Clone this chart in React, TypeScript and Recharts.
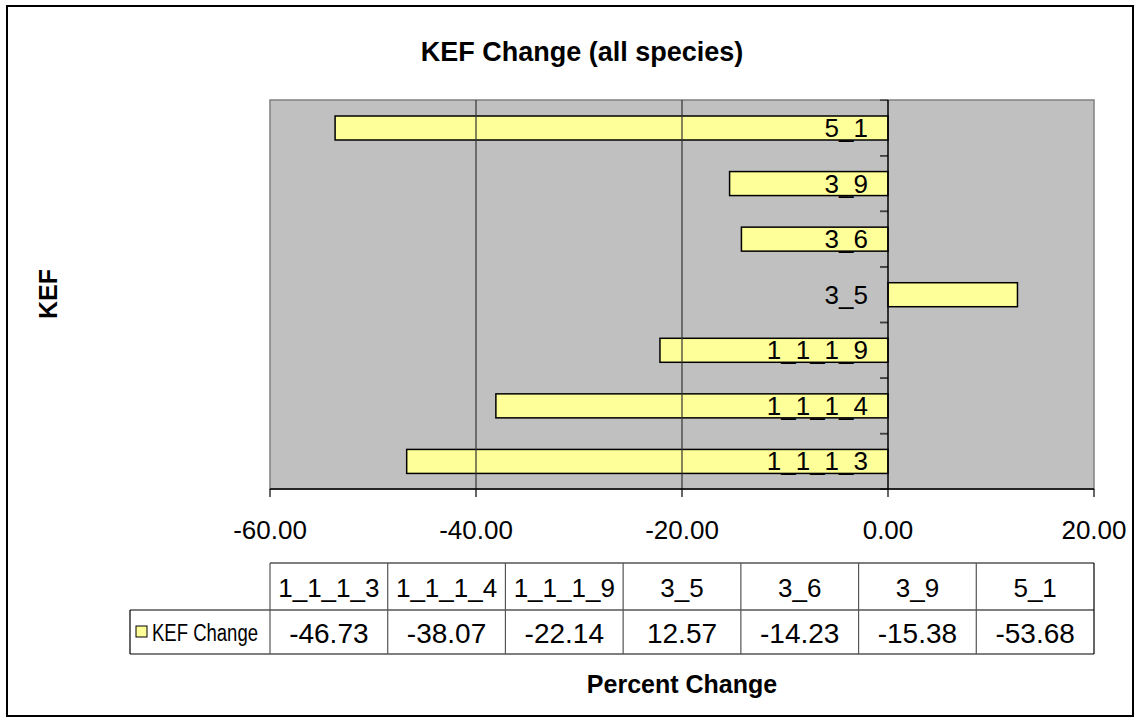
import React from 'react';
import {
	BarChart,
	Bar,
	XAxis,
	YAxis,
	ReferenceLine,
	ReferenceArea,
	LabelList,
} from 'recharts';

const kefs = ['1_1_1_3', '1_1_1_4', '1_1_1_9', '3_5', '3_6', '3_9', '5_1'];
const kefChange = [-46.73, -38.07, -22.14, 12.57, -14.23, -15.38, -53.68];
const xTicks = [-60, -40, -20, 0, 20];
const gridValues = [-40, -20];

const data = kefs.map((kef, i) => ({ kef, value: kefChange[i] }));

const FONT = '"Liberation Sans", Arial, sans-serif';
const W = 1140;
const H = 720;
const plot = { left: 270, right: 1094, top: 100, bottom: 489 };
const band = (plot.bottom - plot.top) / kefs.length;

// bar plus the small category ticks on the zero axis
const BarShape = (props: any) => {
	const { x, y, width, height } = props;
	const rx = width < 0 ? x + width : x;
	const mid = y + height / 2;
	const bt = mid - band / 2;
	const bb = mid + band / 2;
	return (
		<g>
			<rect
				x={rx}
				y={y}
				width={Math.abs(width)}
				height={height}
				fill='#FFFF99'
				stroke='#000'
				strokeWidth={1.5}
			/>
			<line x1={x - 8} x2={x} y1={bt} y2={bt} stroke='#404040' strokeWidth={1.5} />
			<line x1={x - 8} x2={x} y1={bb} y2={bb} stroke='#404040' strokeWidth={1.5} />
		</g>
	);
};

const CatLabel = (props: any) => {
	const { x, y, height, value } = props;
	return (
		<text
			x={x - 20}
			y={y + height / 2}
			textAnchor='end'
			dominantBaseline='central'
			fontSize={26}
			fontFamily={FONT}
			fill='#000'
		>
			{value}
		</text>
	);
};

const DataTable = () => {
	const colW = (plot.right - plot.left) / kefs.length;
	const top = 563;
	const mid = 610;
	const bot = 654;
	const legLeft = 130;
	return (
		<svg
			width={W}
			height={H}
			style={{ position: 'absolute', left: 0, top: 0, pointerEvents: 'none' }}
		>
			<g stroke='#000' strokeWidth={1.2}>
				<line x1={plot.left} x2={plot.right} y1={top} y2={top} />
				<line x1={legLeft} x2={plot.right} y1={mid} y2={mid} />
				<line x1={legLeft} x2={plot.right} y1={bot} y2={bot} />
				<line x1={legLeft} x2={legLeft} y1={mid} y2={bot} />
				{kefs.map((_, i) => (
					<line
						key={i}
						x1={plot.left + i * colW}
						x2={plot.left + i * colW}
						y1={top}
						y2={bot}
						stroke='#555'
					/>
				))}
				<line x1={plot.right} x2={plot.right} y1={top} y2={bot} />
			</g>
			<g fontFamily={FONT} fill='#000' textAnchor='middle'>
				{kefs.map((k, i) => (
					<text key={k} x={plot.left + (i + 0.5) * colW} y={(top + mid) / 2 + 1} dominantBaseline='central' fontSize={26}>
						{k}
					</text>
				))}
				{kefChange.map((v, i) => (
					<text key={i} x={plot.left + (i + 0.5) * colW} y={(mid + bot) / 2 + 1} dominantBaseline='central' fontSize={28}>
						{v.toFixed(2)}
					</text>
				))}
			</g>
			<rect x={136} y={626} width={11} height={11} fill='#FFFF99' stroke='#000' strokeWidth={1} />
			<text
				x={152}
				y={(mid + bot) / 2 + 1}
				dominantBaseline='central'
				fontFamily={FONT}
				fontSize={23}
				textLength={106}
				lengthAdjust='spacingAndGlyphs'
				fill='#000'
			>
				KEF Change
			</text>
			<text
				x={582}
				y={52}
				textAnchor='middle'
				dominantBaseline='central'
				fontFamily={FONT}
				fontSize={27}
				fontWeight='bold'
			>
				KEF Change (all species)
			</text>
			<text
				x={(plot.left + plot.right) / 2}
				y={684}
				textAnchor='middle'
				dominantBaseline='central'
				fontFamily={FONT}
				fontSize={25}
				fontWeight='bold'
			>
				Percent Change
			</text>
			<text
				x={48}
				y={294}
				textAnchor='middle'
				dominantBaseline='central'
				fontFamily={FONT}
				fontSize={25}
				fontWeight='bold'
				transform='rotate(-90 48 294)'
			>
				KEF
			</text>
		</svg>
	);
};

export default function App() {
	return (
		<div
			style={{
				position: 'absolute',
				left: 0,
				top: 0,
				width: W,
				height: H,
				background: '#fff',
				fontFamily: FONT,
			}}
		>
			<div
				style={{
					position: 'absolute',
					left: 6,
					top: 5,
					width: 1128,
					height: 712,
					border: '2px solid #000',
					boxSizing: 'border-box',
				}}
			/>
			<div style={{ position: 'absolute', left: 0, top: 0 }}>
				<BarChart
					width={W}
					height={H}
					data={data}
					layout='vertical'
					barSize={24}
					margin={{ top: plot.top, right: W - plot.right, bottom: H - plot.bottom - 40, left: plot.left }}
				>
					<ReferenceArea
						x1={-60}
						x2={20}
						fill='#C0C0C0'
						fillOpacity={1}
						stroke='#808080'
						strokeWidth={1.5}
						ifOverflow='visible'
					/>
					{gridValues.map((g) => (
						<ReferenceLine key={g} x={g} stroke='#333' strokeWidth={1.2} />
					))}
					<XAxis
						type='number'
						domain={[-60, 20]}
						ticks={xTicks}
						allowDataOverflow
						height={40}
						tickSize={8}
						tickMargin={24}
						tickFormatter={(v: number) => v.toFixed(2)}
						axisLine={{ stroke: '#000', strokeWidth: 1.5 }}
						tickLine={{ stroke: '#000', strokeWidth: 1.2 }}
						tick={{ fill: '#000', fontSize: 26, fontFamily: FONT }}
					/>
					<YAxis type='category' dataKey='kef' reversed hide />
					<ReferenceLine x={0} stroke='#000' strokeWidth={1.5} />
					<Bar dataKey='value' shape={<BarShape />} isAnimationActive={false}>
						<LabelList dataKey='kef' content={<CatLabel />} />
					</Bar>
				</BarChart>
			</div>
			<DataTable />
		</div>
	);
}
